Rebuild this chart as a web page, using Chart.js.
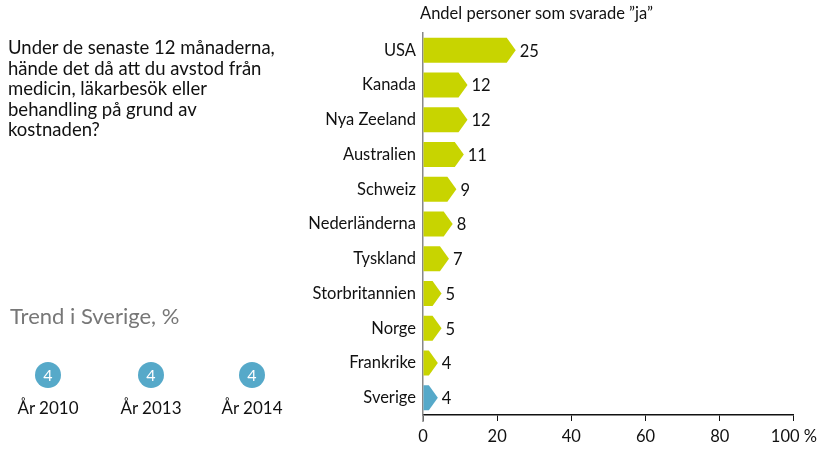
<!DOCTYPE html>
<html>
<head>
<meta charset="utf-8">
<script src="https://cdn.jsdelivr.net/npm/chart.js@4/dist/chart.umd.min.js"></script>
<style>
  body { margin: 0; background: #fff; font-family: "Lato", sans-serif; }
  #wrap { position: relative; width: 823px; height: 451px; }
  #chart { position: absolute; left: 0; top: 0; }
  .question { position: absolute; left: 8px; top: 37px; width: 300px; font-size: 18.5px; line-height: 20.5px; color: #111; }
  .trend-title { position: absolute; left: 10px; top: 302px; font-size: 22px; color: #777; }
  .dot { position: absolute; width: 26px; height: 26px; border-radius: 50%; background: #56a9c9; color: #fff; text-align: center; line-height: 26px; font-size: 16px; }
  .year { position: absolute; width: 90px; text-align: center; font-size: 17px; color: #111; }
</style>
</head>
<body>
<div id="wrap">
  <canvas id="chart" width="823" height="451"></canvas>
  <div class="question">Under de senaste 12 månaderna,<br>hände det då att du avstod från<br>medicin, läkarbesök eller<br>behandling på grund av<br>kostnaden?</div>
  <div class="trend-title">Trend i Sverige, %</div>
  <div id="trend"></div>
</div>
<script>
// Bar data
const countries = [
  "USA", "Kanada", "Nya Zeeland", "Australien", "Schweiz",
  "Nederländerna", "Tyskland", "Storbritannien", "Norge", "Frankrike", "Sverige",
];
const shareYes = [25, 12, 12, 11, 9, 8, 7, 5, 5, 4, 4];
const xTicks = [0, 20, 40, 60, 80, 100];

// Trend in Sweden
const trendYears = ["År 2010", "År 2013", "År 2014"];
const trendValues = [4, 4, 4];

const green = "#c8d400";
const blue = "#56a9c9";
const barColors = countries.map((c) => (c === "Sverige" ? blue : green));

// trend circles (html)
const trendX = [48, 151, 252];
const trendBox = document.getElementById("trend");
trendYears.forEach((yr, i) => {
  const dot = document.createElement("div");
  dot.className = "dot";
  dot.style.left = trendX[i] - 13 + "px";
  dot.style.top = "362px";
  dot.textContent = trendValues[i];
  trendBox.appendChild(dot);
  const lab = document.createElement("div");
  lab.className = "year";
  lab.style.left = trendX[i] - 45 + "px";
  lab.style.top = "397px";
  lab.textContent = yr;
  trendBox.appendChild(lab);
});

// draws bars as arrows, plus the value next to the tip
const arrowBars = {
  id: "arrowBars",
  afterDatasetsDraw(chart) {
    const ctx = chart.ctx;
    const meta = chart.getDatasetMeta(0);
    meta.data.forEach((bar, i) => {
      const h = bar.height;
      const top = bar.y - h / 2;
      const tip = bar.x;
      const neck = Math.max(bar.base, tip - 9);
      ctx.save();
      ctx.fillStyle = barColors[i];
      ctx.beginPath();
      ctx.moveTo(bar.base, top);
      ctx.lineTo(neck, top);
      ctx.lineTo(tip, bar.y);
      ctx.lineTo(neck, top + h);
      ctx.lineTo(bar.base, top + h);
      ctx.closePath();
      ctx.fill();
      ctx.fillStyle = "#111";
      ctx.font = "16.5px Lato";
      ctx.textBaseline = "middle";
      ctx.fillText(shareYes[i], tip + 4, bar.y + 1);
      ctx.restore();
    });
    // small stub of the y axis below the x axis
    const area = chart.chartArea;
    ctx.save();
    ctx.strokeStyle = "#888";
    ctx.lineWidth = 1.5;
    ctx.beginPath();
    ctx.moveTo(area.left, area.bottom);
    ctx.lineTo(area.left, area.bottom + 7);
    ctx.stroke();
    // header
    ctx.fillStyle = "#111";
    ctx.font = "16.5px Lato";
    ctx.textBaseline = "middle";
    ctx.fillText("Andel personer som svarade \u201dja\u201d", 420, 14);
    ctx.restore();
  },
};

const ctx = document.getElementById("chart").getContext("2d");
new Chart(ctx, {
  type: "bar",
  data: {
    labels: countries,
    datasets: [
      {
        data: shareYes,
        backgroundColor: "rgba(0,0,0,0)",
        barPercentage: 0.72,
        categoryPercentage: 1,
      },
    ],
  },
  options: {
    indexAxis: "y",
    responsive: false,
    animation: false,
    layout: { padding: { top: 33, right: 28, left: 0, bottom: 0 } },
    plugins: { legend: { display: false }, tooltip: { enabled: false } },
    scales: {
      x: {
        min: 0,
        max: 100,
        afterFit: (s) => { s.height = 36; },
        afterBuildTicks: (s) => { s.ticks = xTicks.map((v) => ({ value: v })); },
        border: { color: "#111", width: 1.5 },
        grid: { drawOnChartArea: false, drawTicks: true, tickLength: 6, color: "#111" },
        ticks: {
          color: "#111",
          font: { family: "Lato", size: 16.5 },
          padding: 6,
          callback: (v) => (v === 100 ? "100 %" : v),
        },
      },
      y: {
        afterFit: (s) => { s.width = 423; },
        border: { color: "#888", width: 1.5 },
        grid: { display: false, drawTicks: false },
        ticks: { color: "#111", font: { family: "Lato", size: 16.5 }, padding: 7 },
      },
    },
  },
  plugins: [arrowBars],
});
</script>
</body>
</html>
